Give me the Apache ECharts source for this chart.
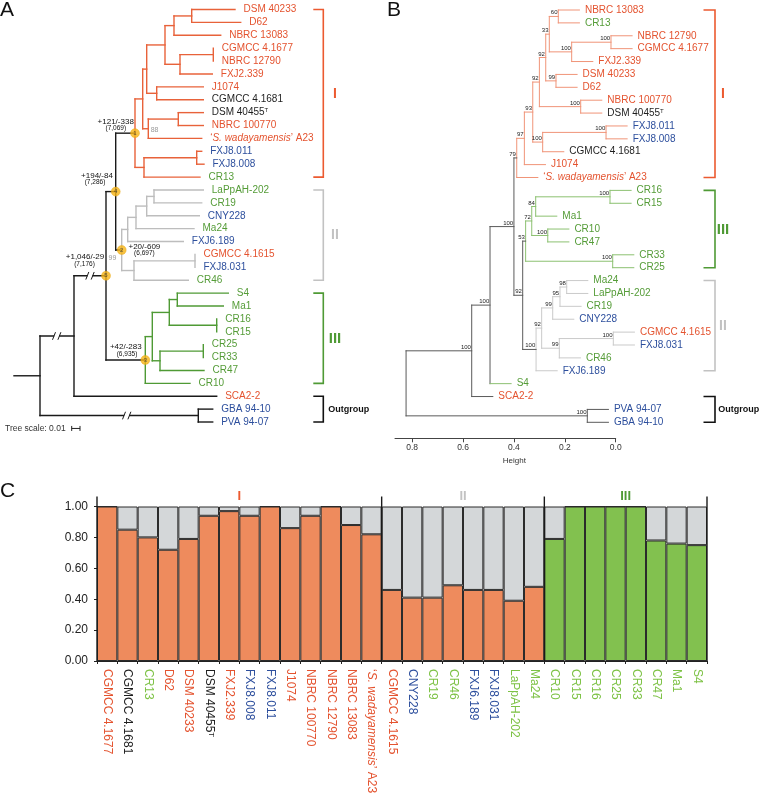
<!DOCTYPE html>
<html><head><meta charset="utf-8">
<script src="https://cdn.jsdelivr.net/npm/echarts/dist/echarts.min.js"></script>
<style>html,body{margin:0;padding:0;background:#fff}#c{width:760px;height:794px}</style>
</head><body><div id="c"></div>
<script>
// ================= DATA =================
const SWAD = '‘S. wadayamensis’ A23';
// strain colour classes (label colours)
const redStrains = ['CGMCC 4.1677','D62','DSM 40233','FXJ2.339','J1074','NBRC 100770','NBRC 12790','NBRC 13083',SWAD,'CGMCC 4.1615','SCA2-2'];
const blackStrains = ['CGMCC 4.1681','DSM 40455T'];
const blueStrains = ['FXJ8.008','FXJ8.011','CNY228','FXJ6.189','FXJ8.031','GBA 94-10','PVA 94-07'];

// ---- Panel A: tips (top to bottom) and tip positions along branch-length axis
const tipsA = ['DSM 40233','D62','NBRC 13083','CGMCC 4.1677','NBRC 12790','FXJ2.339','J1074','CGMCC 4.1681','DSM 40455T','NBRC 100770',SWAD,'FXJ8.011','FXJ8.008','CR13','LaPpAH-202','CR19','CNY228','Ma24','FXJ6.189','CGMCC 4.1615','FXJ8.031','CR46','S4','Ma1','CR16','CR15','CR25','CR33','CR47','CR10','SCA2-2','GBA 94-10','PVA 94-07'];
const tipPosA = [235,240.7,220.7,213.3,213.3,212.3,203.3,203.3,203.3,203.3,201.7,201.7,204,200,203.3,201.7,199.3,194,183.3,195,195,188.3,228.3,223.3,216.7,216.7,203.3,203.3,204,190,216.7,212.7,212.7];
// internal nodes: [id, position, child1, child2]
const nodesA = [
 ['a1',191.7,'DSM 40233','D62'],['a2',174,'a1','NBRC 13083'],['a3',213.3,'CGMCC 4.1677','NBRC 12790'],
 ['a4',180,'a3','FXJ2.339'],['a5',165,'a2','a4'],['a6',156.7,'J1074','CGMCC 4.1681'],['a7',146.7,'a5','a6'],
 ['a8',178.3,'DSM 40455T','NBRC 100770'],['a9',148.3,'a8',SWAD],['a10',142.7,'a7','a9'],
 ['a11',196.7,'FXJ8.011','FXJ8.008'],['a12',144,'a11','CR13'],['N1',135,'a10','a12'],
 ['b1',154,'LaPpAH-202','CR19'],['b2',146.7,'b1','CNY228'],['b3',136,'b2','Ma24'],['b4',127.7,'b3','FXJ6.189'],
 ['b5',195,'CGMCC 4.1615','FXJ8.031'],['b6',134,'b5','CR46'],['N2',121.7,'b4','b6'],['N4',115.7,'N1','N2'],
 ['c1',177.3,'S4','Ma1'],['c2',216.7,'CR16','CR15'],['c3',169.3,'c1','c2'],['c4',203.3,'CR25','CR33'],
 ['c5',160,'c4','CR47'],['c6',152.3,'c3','c5'],['N3',145.3,'c6','CR10'],['N5',106,'N4','N3'],
 ['r1',74,'N5','SCA2-2'],['o1',198.3,'GBA 94-10','PVA 94-07'],['rootA',40,'r1','o1']
];
const rootStubA = 14;
const cladeRootsA = {N1:'I', N2:'II', N3:'III'};
const nodeMarksA = [['N1','1'],['N4','4'],['N2','2'],['N5','5'],['N3','3']];
const annotationsA = [['N1','+121/-338','(7,069)'],['N4','+194/-84','(7,286)'],['N2','+20/-609','(6,697)'],['N5','+1,046/-29','(7,176)'],['N3','+42/-283','(6,935)']];
const supportA = [['a9','88'],['N2','99']];
const breaksA = [['N5',90],['r1',56.7],['o1',126.7]];
const groupsA = [['I',0,13],['II',14,21],['III',22,29],['Outgroup',30,32]];
const treeScaleA = ['Tree scale: 0.01', 71.7, 80];

// ---- Panel B: dendrogram (Height)
const tipsB = ['NBRC 13083','CR13','NBRC 12790','CGMCC 4.1677','FXJ2.339','DSM 40233','D62','NBRC 100770','DSM 40455T','FXJ8.011','FXJ8.008','CGMCC 4.1681','J1074',SWAD,'CR16','CR15','Ma1','CR10','CR47','CR33','CR25','Ma24','LaPpAH-202','CR19','CNY228','CGMCC 4.1615','FXJ8.031','CR46','FXJ6.189','S4','SCA2-2','PVA 94-07','GBA 94-10'];
// [id, height, child1, child2, support]
const nodesB = [
 ['n60',0.2256,'NBRC 13083','CR13',60],['n100a',0.0185,'NBRC 12790','CGMCC 4.1677',100],['n100b',0.173,'n100a','FXJ2.339',100],
 ['n33',0.261,'n60','n100b',33],['n99a',0.2347,'DSM 40233','D62',99],['n92a',0.275,'n33','n99a',92],
 ['n100c',0.1376,'NBRC 100770','DSM 40455T',100],['n92b',0.300,'n92a','n100c',92],['n100d',0.038,'FXJ8.011','FXJ8.008',100],
 ['n100e',0.287,'n100d','CGMCC 4.1681',100],['n93',0.326,'n92b','n100e',93],['n97',0.359,'n93','J1074',97],
 ['n79',0.389,'n97',SWAD,79],['n100f',0.0224,'CR16','CR15',100],['n84',0.3145,'n100f','Ma1',84],
 ['n100g',0.267,'CR10','CR47',100],['n72',0.330,'n84','n100g',72],['n100h',0.0118,'CR33','CR25',100],
 ['n53',0.354,'n72','n100h',53],['n98',0.1926,'Ma24','LaPpAH-202',98],['n95',0.219,'n98','CR19',95],
 ['n99b',0.2476,'n95','CNY228',99],['n100i',0.0094,'CGMCC 4.1615','FXJ8.031',100],['n99c',0.2217,'n100i','CR46',99],
 ['n92c',0.291,'n99b','n99c',92],['n100j',0.313,'n92c','FXJ6.189',100],['n92d',0.3656,'n53','n100j',92],
 ['n100k',0.400,'n79','n92d',100],['n100l',0.494,'n100k','S4',100],['n100m',0.566,'n100l','SCA2-2',100],
 ['n100n',0.1116,'PVA 94-07','GBA 94-10',100],['rootB',0.824,'n100m','n100n',null]
];
const hangB = 0.083;
const cladeRootsB = {n79:'I', n100j:'II', n53:'III'};
const extraCladeB = {'S4':'III'};
const heightTicksB = [0, 0.2, 0.4, 0.6, 0.8];
const groupsB = [['I',0,13],['III',14,20],['II',21,28],['Outgroup',30,32]];

// ---- Panel C: admixture proportions
const categoriesC = ['CGMCC 4.1677','CGMCC 4.1681','CR13','D62','DSM 40233','DSM 40455T','FXJ2.339','FXJ8.008','FXJ8.011','J1074','NBRC 100770','NBRC 12790','NBRC 13083',SWAD,'CGMCC 4.1615','CNY228','CR19','CR46','FXJ6.189','FXJ8.031','LaPpAH-202','Ma24','CR10','CR15','CR16','CR25','CR33','CR47','Ma1','S4'];
const groupC = ['I','I','I','I','I','I','I','I','I','I','I','I','I','I','II','II','II','II','II','II','II','II','III','III','III','III','III','III','III','III'];
const mainShareC = [1.00,0.85,0.80,0.72,0.79,0.94,0.97,0.94,1.00,0.86,0.94,1.00,0.88,0.82,0.46,0.41,0.41,0.49,0.46,0.46,0.39,0.48,0.79,1.00,1.00,1.00,1.00,0.78,0.76,0.75];

// ================= STYLE / LAYOUT =================
const FONT = '"Liberation Sans", Arial, Helvetica, sans-serif';
const TXT = {red:'#e4532f', black:'#1e1e1e', blue:'#2d4f9d', green:'#559c38'};
const TXTC = {red:'#e4532f', black:'#1e1e1e', blue:'#2d4f9d', green:'#7dc245'};
const LINE_A = {I:'#e8623a', II:'#bdbdbd', III:'#4f9a35', bb:'#1a1a1a'};
const LINE_B = {I:'#f09478', II:'#cacaca', III:'#8cc171', bb:'#5a5a5a'};
const GROUP_COL = {I:'#ec5a30', II:'#c2c2c2', III:'#4f9a35', Outgroup:'#111'};
const BAR = {orange:'#ee8b5d', grey:'#d4d7d9', green:'#82c14f', edge:'#2b2b2b'};
const annOffsetA = {N1:[[-19.3,-11.3],[-19.2,-5.3]], N4:[[-18.7,-15.6],[-20.7,-9]], N2:[[22.7,-3],[22.7,3.7]], N5:[[-21,-19.3],[-21.5,-12]], N3:[[-19.5,-13.3],[-18.3,-5.7]]};
const supOffsetA = {a9:[2.4,1.3,'left'], N2:[-5.4,7.7,'right']};
const bracketA = {tick:313.3, bar:323.3, label:335, outLabel:328.3};
const bracketB = {tick:703.5, bar:715, label:723, outLabel:718.3};

function strainClass(n){ return redStrains.includes(n)?'red':blackStrains.includes(n)?'black':blueStrains.includes(n)?'blue':'green'; }
function richName(n){
  if (n === SWAD) return '‘{it|S. wadayamensis}’ A23';
  if (n === 'DSM 40455T') return 'DSM 40455{sup|T}';
  return n;
}

// ================= TREE LAYOUT =================
function layoutTree(tips, nodes){
  const X={}, Y={}, kids={}, par={};
  tips.forEach((t,i)=>{Y[t]=i;});
  nodes.forEach(n=>{ X[n[0]]=n[1]; kids[n[0]]=[n[2],n[3]]; Y[n[0]]=(Y[n[2]]+Y[n[3]])/2; par[n[2]]=n[0]; par[n[3]]=n[0]; });
  return {X,Y,kids,par};
}
function cladeMap(T, roots, extra){
  const m={};
  function mark(id,k){ m[id]=k; (T.kids[id]||[]).forEach(c=>mark(c,k)); }
  Object.keys(roots).forEach(r=>mark(r,roots[r]));
  Object.assign(m, extra||{});
  return m;
}
function segments(T, nodes, clade, roots, colors){
  const segs=[], cols=[];
  nodes.forEach(n=>{
    const id=n[0], x=T.X[id], c1=n[2], c2=n[3];
    segs.push([x,T.Y[c1],x,T.Y[c2]]); cols.push(colors[clade[id]||'bb']);
    [c1,c2].forEach(c=>{ segs.push([x,T.Y[c],T.X[c],T.Y[c]]); cols.push(colors[roots[c]?'bb':(clade[c]||'bb')]); });
  });
  return {segs, cols};
}

const TA = layoutTree(tipsA, nodesA);
tipsA.forEach((t,i)=>{ TA.X[t]=tipPosA[i]; });
const cladeA = cladeMap(TA, cladeRootsA, {});
const segA = segments(TA, nodesA, cladeA, cladeRootsA, LINE_A);
const rootIdA = nodesA[nodesA.length-1][0];
segA.segs.push([rootStubA, TA.Y[rootIdA], TA.X[rootIdA], TA.Y[rootIdA]]); segA.cols.push(LINE_A.bb);

const TB = layoutTree(tipsB, nodesB);
tipsB.forEach(t=>{ TB.X[t]=TB.X[TB.par[t]]-hangB; });
const cladeB = cladeMap(TB, cladeRootsB, extraCladeB);
const segB = segments(TB, nodesB, cladeB, cladeRootsB, LINE_B);

// ================= RENDER HELPERS =================
function segSeries(xi, seg, width){
  return {type:'custom', xAxisIndex:xi, yAxisIndex:xi, clip:false, silent:true,
    encode:{x:[0,2], y:[1,3]}, data: seg.segs,
    renderItem:(p,api)=>{
      const a=api.coord([api.value(0),api.value(1)]), b=api.coord([api.value(2),api.value(3)]);
      return {type:'line', shape:{x1:a[0],y1:a[1],x2:b[0],y2:b[1]}, style:{stroke:seg.cols[p.dataIndex], lineWidth:width, lineCap:'square'}};
    }};
}
function tipTextSeries(xi, tips, T, dx, size){
  return {type:'custom', xAxisIndex:xi, yAxisIndex:xi, clip:false, silent:true,
    data: tips.map((t,i)=>[T.X[t], i]),
    renderItem:(p,api)=>{
      const c=api.coord([api.value(0),api.value(1)]);
      const name=tips[p.dataIndex], col=TXT[strainClass(name)];
      return {type:'text', x:c[0]+dx, y:c[1], style:{text:richName(name), fill:col, fontSize:size, fontFamily:FONT,
        align:'left', verticalAlign:'middle', textAlign:'left', textVerticalAlign:'middle',
        rich:{it:{fontStyle:'italic', fill:col, fontSize:size, fontFamily:FONT}, sup:{fill:col, fontSize:size*0.6, fontFamily:FONT, verticalAlign:'top'}}}};
    }};
}
function bracketSeries(xi, groups, cfg){
  return {type:'custom', xAxisIndex:xi, yAxisIndex:xi, clip:false, silent:true,
    data: groups.map(g=>[0, g[1], g[2]]),
    renderItem:(p,api)=>{
      const g=groups[p.dataIndex], col=GROUP_COL[g[0]];
      const y1=api.coord([0,api.value(1)])[1], y2=api.coord([0,api.value(2)])[1];
      const isOut = g[0]==='Outgroup';
      return {type:'group', children:[
        {type:'polyline', shape:{points:[[cfg.tick,y1],[cfg.bar,y1],[cfg.bar,y2],[cfg.tick,y2]]}, style:{stroke:col, lineWidth:1.6, fill:null}},
        {type:'text', x: isOut?cfg.outLabel:cfg.label, y:(y1+y2)/2+0.5, style:{text:g[0], fill:col, fontFamily:FONT, fontWeight:'bold',
          fontSize: isOut?9:(g[0]==='III'?15:14), align:isOut?'left':'center', verticalAlign:'middle', textAlign:isOut?'left':'center', textVerticalAlign:'middle'}}
      ]};
    }};
}
function txt(x,y,text,size,col,align){
  return {type:'text', x, y, style:{text, fill:col, fontSize:size, fontFamily:FONT, align:align||'left', verticalAlign:'middle', textAlign:align||'left', textVerticalAlign:'middle'}};
}

// ================= OPTION =================
const series = [];
// ---- Panel A
series.push(segSeries(0, segA, 1.4));
series.push(tipTextSeries(0, tipsA, TA, 8.5, 10));
series.push({type:'custom', xAxisIndex:0, yAxisIndex:0, clip:false, silent:true,
  data: breaksA.map(b=>[b[1], TA.Y[b[0]]]),
  renderItem:(p,api)=>{
    const c=api.coord([api.value(0),api.value(1)]);
    return {type:'group', children:[
      {type:'rect', shape:{x:c[0]-2.5,y:c[1]-2,width:5,height:4}, style:{fill:'#fff'}},
      {type:'line', shape:{x1:c[0]-4.2,y1:c[1]+3.8,x2:c[0]-1.2,y2:c[1]-3.8}, style:{stroke:'#1a1a1a', lineWidth:1}},
      {type:'line', shape:{x1:c[0]+1.2,y1:c[1]+3.8,x2:c[0]+4.2,y2:c[1]-3.8}, style:{stroke:'#1a1a1a', lineWidth:1}}
    ]};
  }});
series.push({type:'custom', xAxisIndex:0, yAxisIndex:0, clip:false, silent:true,
  data: annotationsA.map(a=>[TA.X[a[0]], TA.Y[a[0]]]),
  renderItem:(p,api)=>{
    const a=annotationsA[p.dataIndex], o=annOffsetA[a[0]];
    const c=api.coord([api.value(0),api.value(1)]);
    return {type:'group', children:[
      txt(c[0]+o[0][0], c[1]+o[0][1], a[1], 8, '#111', 'center'),
      txt(c[0]+o[1][0], c[1]+o[1][1], a[2], 6.5, '#111', 'center')
    ]};
  }});
series.push({type:'custom', xAxisIndex:0, yAxisIndex:0, clip:false, silent:true,
  data: supportA.map(s=>[TA.X[s[0]], TA.Y[s[0]]]),
  renderItem:(p,api)=>{
    const s=supportA[p.dataIndex], o=supOffsetA[s[0]];
    const c=api.coord([api.value(0),api.value(1)]);
    return txt(c[0]+o[0], c[1]+o[1], s[1], 7, '#9a9a9a', o[2]);
  }});
series.push({type:'scatter', xAxisIndex:0, yAxisIndex:0, silent:true, symbol:'circle', symbolSize:9,
  itemStyle:{color:'#f6b414', borderColor:'#e9a40e', borderWidth:0.5},
  label:{show:true, position:'inside', fontSize:6, color:'#333', fontFamily:FONT, formatter:p=>p.name},
  data: nodeMarksA.map(m=>({name:m[1], value:[TA.X[m[0]], TA.Y[m[0]]]}))});
series.push(bracketSeries(0, groupsA, bracketA));
series.push({type:'custom', xAxisIndex:0, yAxisIndex:0, clip:false, silent:true,
  data:[[treeScaleA[1], tipsA.length-0.5, treeScaleA[2]]],
  renderItem:(p,api)=>{
    const a=api.coord([api.value(0),api.value(1)]), b=api.coord([api.value(2),api.value(1)]);
    return {type:'group', children:[
      txt(5, a[1], treeScaleA[0], 8.5, '#333', 'left'),
      {type:'line', shape:{x1:a[0],y1:a[1]-2.5,x2:a[0],y2:a[1]+2.5}, style:{stroke:'#222', lineWidth:1}},
      {type:'line', shape:{x1:a[0],y1:a[1],x2:b[0],y2:b[1]}, style:{stroke:'#222', lineWidth:1}},
      {type:'line', shape:{x1:b[0],y1:b[1]-2.5,x2:b[0],y2:b[1]+2.5}, style:{stroke:'#222', lineWidth:1}}
    ]};
  }});
// ---- Panel B
series.push(segSeries(1, segB, 1.0));
series.push(tipTextSeries(1, tipsB, TB, 5.5, 10));
series.push({type:'custom', xAxisIndex:1, yAxisIndex:1, clip:false, silent:true,
  data: nodesB.filter(n=>n[4]!=null).map(n=>[TB.X[n[0]], TB.Y[n[0]], n[4]]),
  renderItem:(p,api)=>{
    const c=api.coord([api.value(0),api.value(1)]);
    return {type:'text', x:c[0]-0.8, y:c[1]-0.6, style:{text:String(api.value(2)), fill:'#222', fontSize:6, fontFamily:FONT,
      align:'right', verticalAlign:'bottom', textAlign:'right', textVerticalAlign:'bottom'}};
  }});
series.push(bracketSeries(1, groupsB, bracketB));
// ---- Panel C
const labelColC = i => TXTC[strainClass(categoriesC[i])];
series.push({type:'bar', xAxisIndex:2, yAxisIndex:2, stack:'q', barCategoryGap:'0%', silent:true,
  data: mainShareC.map((v,i)=>({value:v, itemStyle:{color: groupC[i]==='III'?BAR.green:BAR.orange}})),
  itemStyle:{borderColor:BAR.edge, borderWidth:1}});
series.push({type:'bar', xAxisIndex:2, yAxisIndex:2, stack:'q', barCategoryGap:'0%', silent:true,
  data: mainShareC.map(v=>+(1-v).toFixed(2)),
  itemStyle:{color:BAR.grey, borderColor:BAR.edge, borderWidth:1}});
// group separators & labels
const groupNamesC = [...new Set(groupC)];
const groupSpanC = groupNamesC.map(g=>[g, groupC.indexOf(g), groupC.lastIndexOf(g)]);
series.push({type:'custom', xAxisIndex:2, yAxisIndex:2, clip:false, silent:true, z:5,
  data: groupSpanC.map(s=>[s[1], s[2]]),
  renderItem:(p,api)=>{
    const s=groupSpanC[p.dataIndex];
    const w=api.size([1,0])[0];
    const a=api.coord([api.value(0),1]), b=api.coord([api.value(1),1]), z=api.coord([api.value(0),0]);
    const xl=a[0]-w/2, xr=b[0]+w/2, top=a[1]-10;
    const ch=[
      {type:'line', shape:{x1:xr,y1:top,x2:xr,y2:z[1]}, style:{stroke:'#1a1a1a', lineWidth:1.4}},
      {type:'text', x:(xl+xr)/2, y:a[1]-10, style:{text:s[0], fill:GROUP_COL[s[0]], fontSize:13, fontWeight:'bold', fontFamily:FONT, align:'center', verticalAlign:'middle', textAlign:'center', textVerticalAlign:'middle'}}
    ];
    if (p.dataIndex===0) ch.push({type:'line', shape:{x1:xl,y1:top,x2:xl,y2:z[1]}, style:{stroke:'#1a1a1a', lineWidth:1.4}});
    return {type:'group', children:ch};
  }});

const option = {
  animation:false,
  backgroundColor:'#fff',
  grid:[
    {left:0, top:9.5, width:380, height:412.5, outerBoundsMode:'none'},
    {left:395, top:10, width:220.7, height:412.3, outerBoundsMode:'none'},
    {left:97, top:506.5, width:610, height:154.5, outerBoundsMode:'none'}
  ],
  xAxis:[
    {gridIndex:0, type:'value', min:0, max:380, show:false},
    {gridIndex:1, type:'value', inverse:true, min:0, max:0.8675, position:'bottom', offset:16,
      axisLine:{show:true, onZero:false, lineStyle:{color:'#444', width:1}},
      axisTick:{show:true, length:4, customValues:heightTicksB, lineStyle:{color:'#444'}},
      axisLabel:{show:true, customValues:heightTicksB, formatter:v=>v.toFixed(1), fontSize:8.5, color:'#333', fontFamily:FONT, margin:5},
      splitLine:{show:false},
      name:'Height', nameLocation:'middle', nameGap:17,
      nameTextStyle:{fontSize:8, color:'#333', fontFamily:FONT, padding:[0,0,0,18]}},
    {gridIndex:2, type:'category', data:categoriesC,
      axisLine:{show:true, onZero:false, lineStyle:{color:'#222', width:1}},
      axisTick:{show:true, length:3, lineStyle:{color:'#222'}},
      axisLabel:{interval:0, rotate:-90, fontSize:12, fontFamily:FONT, margin:8,
        color:(v,i)=>labelColC(i),
        formatter:v=>richName(v),
        rich:{it:{fontStyle:'italic', fontSize:12, fontFamily:FONT, color:TXTC.red}, sup:{fontSize:8, fontFamily:FONT, color:TXTC.black, verticalAlign:'top'}}},
      splitLine:{show:false}}
  ],
  yAxis:[
    {gridIndex:0, type:'value', min:0, max:32, inverse:true, show:false},
    {gridIndex:1, type:'value', min:0, max:32, inverse:true, show:false},
    {gridIndex:2, type:'value', min:0, max:1, interval:0.2,
      axisLine:{show:true, lineStyle:{color:'#222', width:1}},
      axisTick:{show:true, length:3, lineStyle:{color:'#222'}},
      axisLabel:{formatter:v=>v.toFixed(2), fontSize:12, color:'#222', fontFamily:FONT, margin:9},
      splitLine:{show:false}}
  ],
  graphic:[
    {type:'text', left:0, top:0, style:{text:'A', fontSize:21, fontFamily:FONT, fill:'#111'}},
    {type:'text', left:387, top:0, style:{text:'B', fontSize:21, fontFamily:FONT, fill:'#111'}},
    {type:'text', left:0, top:481, style:{text:'C', fontSize:21, fontFamily:FONT, fill:'#111'}}
  ],
  series
};
const chart = echarts.init(document.getElementById('c'));
chart.setOption(option);
</script></body></html>
